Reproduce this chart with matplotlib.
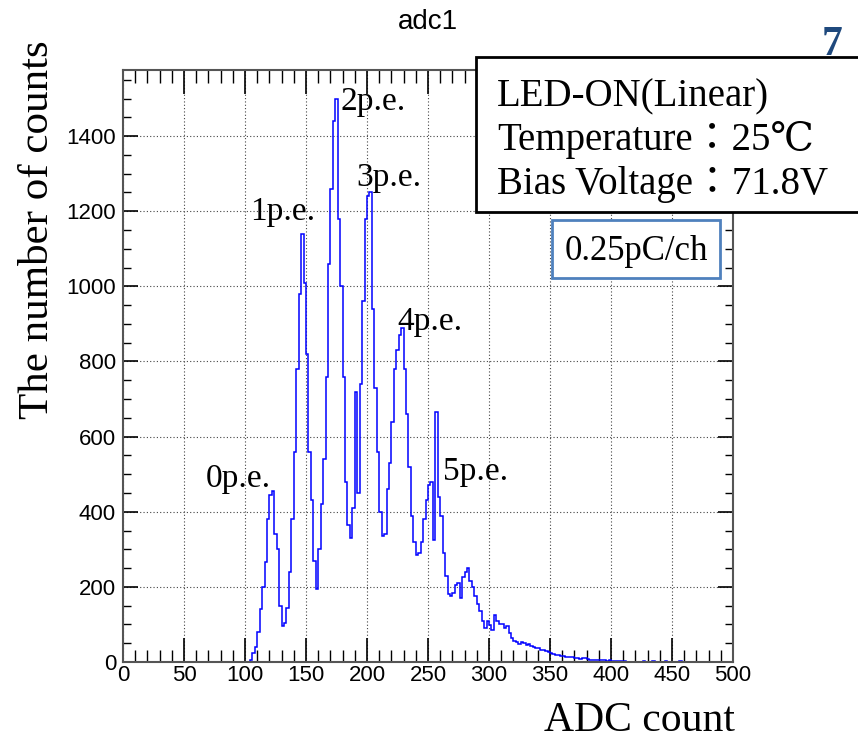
import numpy as np
import matplotlib
matplotlib.use("Agg")
import matplotlib.pyplot as plt
from matplotlib.patches import Rectangle
from matplotlib.ticker import MultipleLocator

# DATA  (ADC histogram, 2-count bins from 100 to 460)
bin_lo = 100
bin_w = 2
counts = [
    0, 0, 5, 25, 40, 80, 140, 200, 265, 380,            # 100-118
    445, 455, 340, 300, 150, 95, 105, 145, 240, 380,    # 120-138
    560, 780, 980, 1140, 1010, 820, 560, 430, 270, 195,  # 140-158
    300, 420, 540, 760, 1060, 1260, 1440, 1500, 1180, 1000,  # 160-178
    760, 480, 365, 330, 410, 720, 450, 740, 960, 1180,  # 180-198
    1240, 1250, 940, 730, 560, 400, 335, 340, 460, 530,  # 200-218
    640, 780, 830, 870, 890, 780, 660, 520, 390, 320,   # 220-238
    285, 290, 320, 380, 430, 470, 480, 325, 665, 440,   # 240-258
    390, 290, 230, 180, 175, 185, 205, 210, 170, 225,   # 260-278
    240, 250, 215, 200, 175, 155, 135, 110, 90, 108,    # 280-298
    98, 86, 124, 110, 102, 100, 90, 95, 78, 65,         # 300-318
    55, 53, 49, 52, 50, 44, 48, 42, 40, 37,             # 320-338
    36, 33, 31, 28, 27, 25, 22, 19, 18, 16,             # 340-358
    15, 14, 14, 12, 12, 11, 10, 9, 10, 11,              # 360-378
    8, 6, 6, 5, 5, 4, 4, 4, 3, 4,                       # 380-398
    3, 3, 2, 2, 2, 2, 1, 1, 1, 0,                       # 400-418
    1, 0, 1, 2, 0, 0, 1, 2, 0, 0,                       # 420-438
    0, 1, 2, 0, 0, 0, 0, 0, 2, 0,                       # 440-458
]
edges = bin_lo + bin_w * np.arange(len(counts) + 1)

peak_labels = ['0p.e.', '1p.e.', '2p.e.', '3p.e.', '4p.e.', '5p.e.']
peak_label_pos = [(68, 466), (104.5, 1177), (178, 1470), (191, 1267), (224.5, 884), (262, 485)]

info_lines = ['LED-ON(Linear)', 'Temperature\uff1a25\u2103', 'Bias Voltage\uff1a71.8V']

SERIF = ['Liberation Serif', 'DejaVu Serif', 'Noto Sans CJK JP']
SANS = ['Liberation Sans', 'DejaVu Sans']

# FIGURE
W, H = 858, 740
fig = plt.figure(figsize=(W / 100, H / 100), dpi=100)
ax = fig.add_axes([123 / W, (H - 662) / H, 610 / W, 592 / H])

ax.stairs(counts, edges, color='#0000ff', lw=1.1, baseline=None)

ax.set_xlim(0, 500)
ax.set_ylim(0, 1576)

ax.xaxis.set_major_locator(MultipleLocator(50))
ax.xaxis.set_minor_locator(MultipleLocator(10))
ax.yaxis.set_major_locator(MultipleLocator(200))
ax.yaxis.set_minor_locator(MultipleLocator(50))

ax.tick_params(axis='x', which='major', direction='in', length=17, width=1.2,
               top=True, labelsize=16, pad=2)
ax.tick_params(axis='x', which='minor', direction='in', length=9, width=1, top=True)
ax.tick_params(axis='y', which='major', direction='in', length=11, width=1.2,
               right=True, labelsize=16, pad=5)
ax.tick_params(axis='y', which='minor', direction='in', length=6, width=1, right=True)
for lab in ax.get_xticklabels() + ax.get_yticklabels():
    lab.set_family(SANS)

for s in ax.spines.values():
    s.set_color('#555555')
    s.set_linewidth(1.5)

ax.grid(True, which='major', color='#444444', linestyle=(0, (1, 2)), lw=0.8)
ax.set_axisbelow(True)

# peak labels
for txt, (px, py) in zip(peak_labels, peak_label_pos):
    ax.text(px, py, txt, family=SERIF, fontsize=24, ha='left', va='baseline')

# titles / axis labels
fig.text(428 / W, 1 - 22 / H, 'adc1', family=SANS, fontsize=20, ha='center', va='center')
fig.text(38 / W, 1 - 230 / H, 'The number of counts', family=SERIF, fontsize=31,
         rotation=90, ha='center', va='center')
fig.text(735 / W, 1 - 731 / H, 'ADC count', family=SERIF, fontsize=30,
         ha='right', va='baseline')

# info box
fig.patches.append(Rectangle((476 / W, 1 - 212 / H), 0.5, 155 / H, transform=fig.transFigure,
                             facecolor='white', edgecolor='black', lw=2, zorder=5))
for i, line in enumerate(info_lines):
    fig.text(497 / W, 1 - (106 + 44 * i) / H, line, family=SERIF, fontsize=28,
             ha='left', va='baseline', zorder=6)

fig.patches.append(Rectangle((552 / W, 1 - 278 / H), 168 / W, 58 / H, transform=fig.transFigure,
                             facecolor='white', edgecolor='#4f81bd', lw=2, zorder=5))
fig.text(636 / W, 1 - 251 / H, '0.25pC/ch', family=SERIF, fontsize=25,
         ha='center', va='center', zorder=6)

fig.text(832 / W, 1 - 45 / H, '7', family=SERIF, fontsize=30, fontweight='bold',
         color='#1f497d', ha='center', va='center', zorder=4)

fig.savefig('out.png', dpi=100)
